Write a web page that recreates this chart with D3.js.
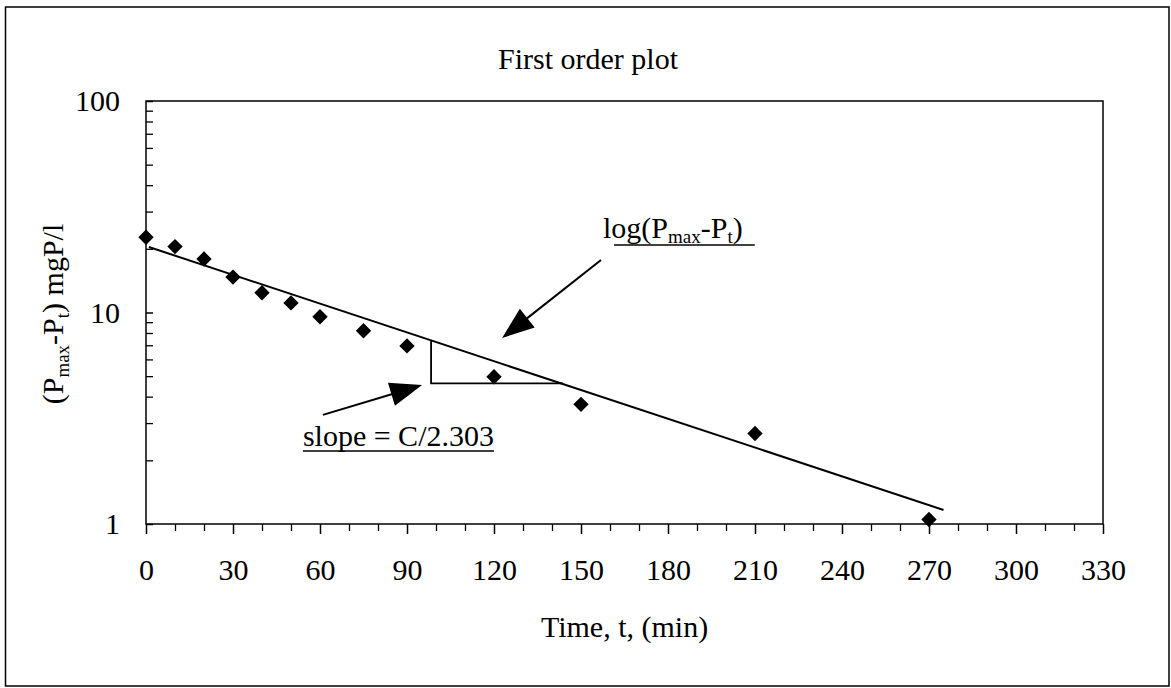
<!DOCTYPE html>
<html><head><meta charset="utf-8">
<script src="https://cdn.jsdelivr.net/npm/d3@7"></script>
<style>
body{margin:0;background:#fff}
svg{display:block}
text{font-family:"Liberation Serif","Times New Roman",serif;fill:#000}
</style>
</head><body>
<svg id="c" width="1171" height="688"></svg>
<script>
// ---- data ----
const times  = [0, 10, 20, 30, 40, 50, 60, 75, 90, 120, 150, 210, 270];
const values = [22.7, 20.5, 17.9, 14.7, 12.4, 11.1, 9.55, 8.2, 6.95, 4.97, 3.68, 2.68, 1.05];
const fitTimes  = [1, 275];
const fitValues = [20.4, 1.165];
const triTimes  = [98.3, 98.3, 143.8];
const triValues = [7.38, 4.62, 4.62];
const xMajorTicks = [0, 30, 60, 90, 120, 150, 180, 210, 240, 270, 300, 330];
const xMinorTicks = d3.range(0, 331, 10).filter(d => d % 30 !== 0);
const yMajorTicks = [1, 10, 100];
const yMinorTicks = [2,3,4,5,6,7,8,9,20,30,40,50,60,70,80,90];
const titleText = "First order plot";
const xTitle = "Time, t, (min)";
// annotation anchors in data units [time, value]
const logArrow   = {tail: [156.9, 17.7], tip: [122.8, 7.58]};
const slopeArrow = {tail: [61.0, 3.28], tip: [95.2, 4.54]};
const logLabelAt   = [157.6, 22.5];
const slopeLabelAt = [54.1, 2.34];

// ---- layout ----
const svg = d3.select("#c");
const L = 146, R = 1103, T = 101, B = 524;
const FS = "30px", SUB = "19px";
const x = d3.scaleLinear().domain([0, 330]).range([L, R]);
const y = d3.scaleLog().domain([1, 100]).range([B, T]);

// outer frame
svg.append("rect").attr("x", 5.5).attr("y", 7).attr("width", 1163.5).attr("height", 679)
  .attr("fill", "none").attr("stroke", "#000").attr("stroke-width", 1.5);

// title
svg.append("text").attr("x", 588).attr("y", 69).attr("text-anchor", "middle")
  .style("font-size", FS).text(titleText);

// plot border
svg.append("rect").attr("x", L).attr("y", T).attr("width", R - L).attr("height", B - T)
  .attr("fill", "none").attr("stroke", "#000").attr("stroke-width", 1.5);

// x axis
const gx = svg.append("g").attr("transform", `translate(0,${B})`)
  .call(d3.axisBottom(x).tickValues(xMajorTicks).tickSize(10).tickSizeOuter(0).tickFormat(d3.format("d")));
gx.select(".domain").remove();
gx.selectAll(".tick line").attr("stroke-width", 1.5);
gx.selectAll(".tick text").attr("y", 56).attr("dy", 0).style("font-size", FS).attr("fill", "#000");
const gxm = svg.append("g").attr("transform", `translate(0,${B})`)
  .call(d3.axisBottom(x).tickValues(xMinorTicks).tickSize(7).tickSizeOuter(0).tickFormat(""));
gxm.select(".domain").remove();
gxm.selectAll(".tick line").attr("stroke-width", 1.3);

// y axis (ticks inside)
const gy = svg.append("g").attr("transform", `translate(${L},0)`)
  .call(d3.axisLeft(y).tickValues(yMajorTicks).tickSize(-7).tickPadding(26).tickSizeOuter(0).tickFormat(d3.format("d")));
gy.select(".domain").remove();
gy.selectAll(".tick line").attr("stroke-width", 1.5);
gy.selectAll(".tick text").style("font-size", FS).attr("fill", "#000");
const gym = svg.append("g").attr("transform", `translate(${L},0)`)
  .call(d3.axisLeft(y).tickValues(yMinorTicks).tickSize(-7).tickSizeOuter(0).tickFormat(""));
gym.select(".domain").remove();
gym.selectAll(".tick line").attr("stroke-width", 1.3);

// axis titles
svg.append("text").attr("x", (L + R) / 2).attr("y", 637).attr("text-anchor", "middle")
  .style("font-size", FS).text(xTitle);

const yt = svg.append("text").attr("transform", "translate(63,314) rotate(-90)")
  .attr("text-anchor", "middle").style("font-size", FS);
yt.append("tspan").text("(P");
yt.append("tspan").text("max").style("font-size", SUB).attr("dy", 6);
yt.append("tspan").text("-P").attr("dy", -6);
yt.append("tspan").text("t").style("font-size", SUB).attr("dy", 6);
yt.append("tspan").text(") mgP/l").attr("dy", -6);

// fitted line
const line = d3.line().x(d => x(d[0])).y(d => y(d[1]));
svg.append("path").datum(d3.zip(fitTimes, fitValues)).attr("d", line)
  .attr("fill", "none").attr("stroke", "#000").attr("stroke-width", 2);

// slope triangle
svg.append("path").datum(d3.zip(triTimes, triValues)).attr("d", line)
  .attr("fill", "none").attr("stroke", "#000").attr("stroke-width", 1.8);

// data points (diamonds)
const diamond = d3.symbol().type(d3.symbolSquare).size(118);
svg.append("g").selectAll("path").data(d3.zip(times, values)).join("path")
  .attr("d", diamond)
  .attr("transform", d => `translate(${x(d[0])},${y(d[1])}) rotate(45)`)
  .attr("fill", "#000");

// arrows
function arrow(a, headLen, headW) {
  const x1 = x(a.tail[0]), y1 = y(a.tail[1]), x2 = x(a.tip[0]), y2 = y(a.tip[1]);
  const dx = x2 - x1, dy = y2 - y1, len = Math.hypot(dx, dy);
  const ux = dx / len, uy = dy / len;
  const bx = x2 - ux * headLen, by = y2 - uy * headLen;
  svg.append("line").attr("x1", x1).attr("y1", y1).attr("x2", bx + ux * 2).attr("y2", by + uy * 2)
    .attr("stroke", "#000").attr("stroke-width", 2);
  svg.append("path").attr("d",
    `M${x2},${y2}L${bx - uy * headW / 2},${by + ux * headW / 2}L${bx + uy * headW / 2},${by - ux * headW / 2}Z`)
    .attr("fill", "#000");
}
arrow(logArrow, 32, 24);
arrow(slopeArrow, 32, 24);

// labels
const lx = x(logLabelAt[0]), ly = y(logLabelAt[1]);
const lt = svg.append("text").attr("x", lx).attr("y", ly).style("font-size", FS);
lt.append("tspan").text("log(P");
lt.append("tspan").text("max").style("font-size", SUB).attr("dy", 5);
lt.append("tspan").text("-P").attr("dy", -5);
lt.append("tspan").text("t").style("font-size", SUB).attr("dy", 5);
lt.append("tspan").text(")").attr("dy", -5);
const lbb = lt.node().getBBox();
svg.append("line").attr("x1", lx + 11).attr("x2", lbb.x + lbb.width + 12).attr("y1", ly + 7).attr("y2", ly + 7)
  .attr("stroke", "#000").attr("stroke-width", 1.5);

const sx = x(slopeLabelAt[0]), sy = y(slopeLabelAt[1]);
const st = svg.append("text").attr("x", sx).attr("y", sy).style("font-size", FS).text("slope = C/2.303");
const sbb = st.node().getBBox();
svg.append("line").attr("x1", sx).attr("x2", sbb.x + sbb.width).attr("y1", sy + 5).attr("y2", sy + 5)
  .attr("stroke", "#000").attr("stroke-width", 1.5);
</script>
</body></html>
